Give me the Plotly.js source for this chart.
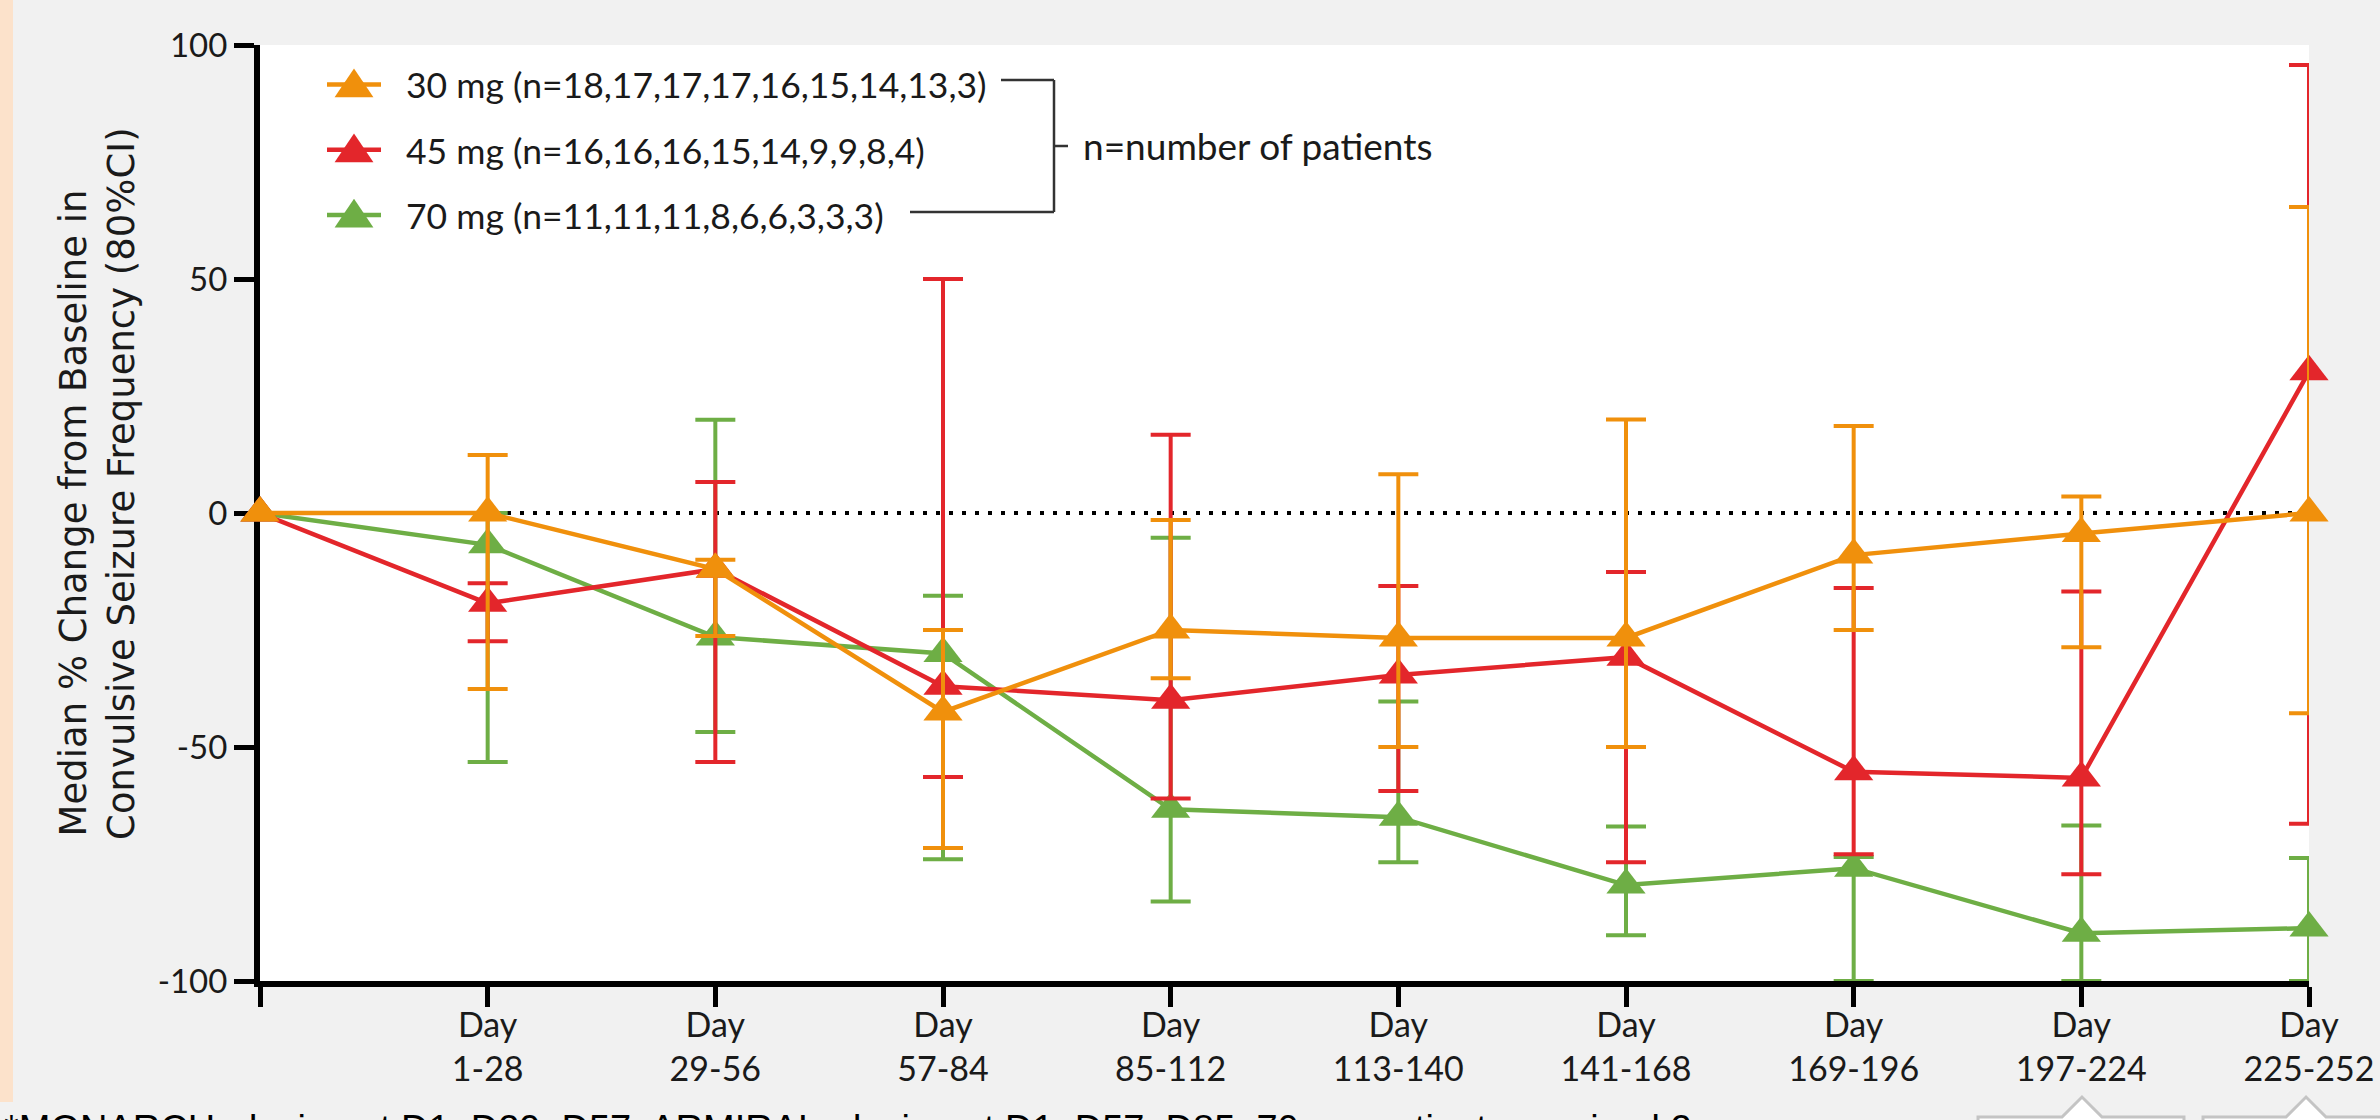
<!DOCTYPE html>
<html>
<head>
<meta charset="utf-8">
<script src="https://cdn.plot.ly/plotly-3.0.1.min.js"></script>
<style>
  html, body { margin: 0; padding: 0; background: #f1f1f1; }
  #chart { width: 2380px; height: 1120px; }
</style>
</head>
<body>
<div id="chart"></div>
<script>
// ---------------- data ----------------
const periods = ['Baseline', 'Day 1-28', 'Day 29-56', 'Day 57-84', 'Day 85-112',
                 'Day 113-140', 'Day 141-168', 'Day 169-196', 'Day 197-224', 'Day 225-252'];
const tickLabels = ['', 'Day<br>1-28', 'Day<br>29-56', 'Day<br>57-84', 'Day<br>85-112',
                    'Day<br>113-140', 'Day<br>141-168', 'Day<br>169-196', 'Day<br>197-224', 'Day<br>225-252'];
const yTicks = [-100, -50, 0, 50, 100];
const yTickLabels = ['-100', '-50', '0', '50', '100'];

const seriesNames = ['30 mg (n=18,17,17,17,16,15,14,13,3)',
                     '45 mg (n=16,16,16,15,14,9,9,8,4)',
                     '70 mg (n=11,11,11,8,6,6,3,3,3)'];

// 30 mg
const median30 = [0, 0, -12, -42.5, -25, -26.7, -26.7, -9, -4.4, 0];
const upper30  = [null, 12.4, -10, -25, -1.5, 8.3, 20, 18.6, 3.5, 65.4];
const lower30  = [null, -37.6, -26.3, -71.6, -35.3, -50, -50, -25, -28.7, -42.8];
// 45 mg
const median45 = [0, -19.3, -12, -37, -40, -34.6, -30.8, -55.3, -56.6, 30.2];
const upper45  = [null, -15, 6.6, 50, 16.7, -15.6, -12.6, -16, -16.8, 95.7];
const lower45  = [null, -27.4, -53.2, -56.4, -61, -59.4, -74.6, -72.9, -77.2, -66.4];
// 70 mg
const median70 = [0, -6.8, -26.5, -30, -63.3, -65, -79.5, -75.9, -89.8, -88.7];
const upper70  = [null, 0, 19.9, -17.7, -5.3, -40.3, -67, -73.5, -66.8, -73.7];
const lower70  = [null, -53.2, -46.8, -74, -83, -74.6, -90.2, -100, -100, -100];

const footnote = '*MONARCH: dosing at D1, D29, D57. ARMIRAL: dosing at D1, D57, D85. 70 mg patients received 2';
const bracketLabel = 'n=number of patients';
const yTitleLines = ['Median % Change from Baseline in', 'Convulsive Seizure Frequency (80%CI)'];

// ---------------- styling ----------------
const COL30 = '#f0900c', COL45 = '#e3262b', COL70 = '#6eae45';
const TICKFONT = 'Lato, "Open Sans", sans-serif';
const NB = '\u00a0\u00a0\u00a0\u00a0\u00a0';   // leading pad to lift the rotated title a little

function makeTrace(name, med, up, lo, color, rank, group) {
  const plus = med.map((m, i) => up[i] == null ? null : up[i] - m);
  const minus = med.map((m, i) => lo[i] == null ? null : m - lo[i]);
  return {
    type: 'scatter', mode: 'lines+markers', name: name,
    x: periods, y: med,
    legendrank: rank, legendgroup: group,
    cliponaxis: false,
    line: { color: color, width: 4.5 },
    marker: { symbol: 'triangle-up', size: 34, color: color },
    error_y: { type: 'data', symmetric: false, array: plus, arrayminus: minus,
               color: color, thickness: 4, width: 20 }
  };
}

const traces = [
  makeTrace(seriesNames[2], median70, upper70, lower70, COL70, 3, 'c'),
  makeTrace(seriesNames[1], median45, upper45, lower45, COL45, 2, 'b'),
  makeTrace(seriesNames[0], median30, upper30, lower30, COL30, 1, 'a')
];

// layout helpers: pixel -> paper
const L = 260, R = 2309, T = 45, B = 981;
const px = x => (x - L) / (R - L);
const py = y => (B - y) / (B - T);

function pathPx(points) {
  return 'M' + points.map(p => px(p[0]).toFixed(5) + ',' + py(p[1]).toFixed(5)).join(' L') + ' Z';
}

const shapes = [
  { type: 'line', xref: 'x', yref: 'y', x0: 0, x1: 9, y0: 0, y1: 0, layer: 'below',
    line: { color: '#000', width: 4, dash: '4px,9px' } },
  { type: 'rect', xref: 'paper', yref: 'paper', x0: px(0), x1: px(13), y0: py(1102), y1: py(-5),
    fillcolor: '#fce2cb', line: { width: 0 }, layer: 'below' },
  { type: 'line', xref: 'paper', yref: 'paper', x0: px(1001), x1: px(1054), y0: py(80), y1: py(80),
    line: { color: '#333', width: 2.5 } },
  { type: 'line', xref: 'paper', yref: 'paper', x0: px(1054), x1: px(1054), y0: py(80), y1: py(212),
    line: { color: '#333', width: 2.5 } },
  { type: 'line', xref: 'paper', yref: 'paper', x0: px(910), x1: px(1054), y0: py(212), y1: py(212),
    line: { color: '#333', width: 2.5 } },
  { type: 'line', xref: 'paper', yref: 'paper', x0: px(1054), x1: px(1068), y0: py(146), y1: py(146),
    line: { color: '#333', width: 2.5 } },
  { type: 'path', xref: 'paper', yref: 'paper',
    path: pathPx([[1978, 1150], [1978, 1117], [2062, 1117], [2082, 1097], [2102, 1117], [2184, 1117], [2184, 1150]]),
    fillcolor: '#ffffff', line: { color: '#c4c4c4', width: 3 } },
  { type: 'path', xref: 'paper', yref: 'paper',
    path: pathPx([[2203, 1150], [2203, 1117], [2286, 1117], [2306, 1097], [2326, 1117], [2420, 1117], [2420, 1150]]),
    fillcolor: '#ffffff', line: { color: '#c4c4c4', width: 3 } }
];

const annotations = [
  { xref: 'paper', yref: 'paper', x: px(1081), y: py(146), xanchor: 'left', yanchor: 'middle',
    text: bracketLabel, showarrow: false, font: { family: TICKFONT, size: 37, color: '#1a1a1a' } },
  { xref: 'paper', yref: 'paper', x: px(2), y: py(1106), xanchor: 'left', yanchor: 'top',
    text: footnote, showarrow: false, font: { family: '"Liberation Sans", Arial, sans-serif', size: 38, color: '#000' } }
];

const layout = {
  width: 2380, height: 1120,
  margin: { l: L, r: 2380 - R, t: T, b: 1120 - B, pad: 0 },
  paper_bgcolor: '#f1f1f1', plot_bgcolor: '#ffffff',
  showlegend: true,
  legend: {
    x: px(302), y: py(55), xanchor: 'left', yanchor: 'top',
    bgcolor: 'rgba(0,0,0,0)', font: { family: TICKFONT, size: 35.5, color: '#1a1a1a' },
    tracegroupgap: 16, itemwidth: 94
  },
  xaxis: {
    type: 'category', range: [0, 9],
    tickvals: periods, ticktext: tickLabels,
    showline: true, linecolor: '#000', linewidth: 6,
    ticks: 'outside', ticklen: 20, tickwidth: 5, tickcolor: '#000',
    ticklabelstandoff: -11,
    showgrid: false, zeroline: false, layer: 'below traces',
    tickfont: { family: TICKFONT, size: 34, color: '#1a1a1a' }
  },
  yaxis: {
    range: [-100, 100], tickvals: yTicks, ticktext: yTickLabels,
    showline: true, linecolor: '#000', linewidth: 6,
    ticks: 'outside', ticklen: 20, tickwidth: 5, tickcolor: '#000',
    showgrid: false, zeroline: false, layer: 'below traces',
    tickfont: { family: TICKFONT, size: 33, color: '#1a1a1a' },
    title: { text: NB + yTitleLines[0] + '<br>' + NB + yTitleLines[1], standoff: 14,
             font: { family: '"DejaVu Sans", Verdana, sans-serif', size: 37, color: '#1a1a1a' } }
  },
  shapes: shapes,
  annotations: annotations
};

// enlarge legend keys (Plotly caps legend marker size) and shorten the key line
function fixLegend() {
  document.querySelectorAll('#chart .legend g.traces').forEach(function (tr) {
    const pt = tr.querySelector('path.scatterpts');
    if (!pt) return;
    const t = pt.getAttribute('transform') || '';
    const m = t.match(/translate\(\s*([-\d.]+)/);
    const cx = m ? parseFloat(m[1]) : 20;
    pt.setAttribute('transform', 'translate(' + cx + ',3) scale(2.1,2.4)');
    const ln = tr.querySelector('path.js-line');
    if (ln) ln.setAttribute('d', 'M' + (cx - 27) + ',0h54');
  });
}

const gd = document.getElementById('chart');
Plotly.newPlot(gd, traces, layout, { staticPlot: true, displayModeBar: false }).then(function () {
  fixLegend();
  gd.on && gd.on('plotly_afterplot', fixLegend);
  setTimeout(fixLegend, 0);
  setTimeout(fixLegend, 100);
  setTimeout(fixLegend, 400);
});
</script>
</body>
</html>
